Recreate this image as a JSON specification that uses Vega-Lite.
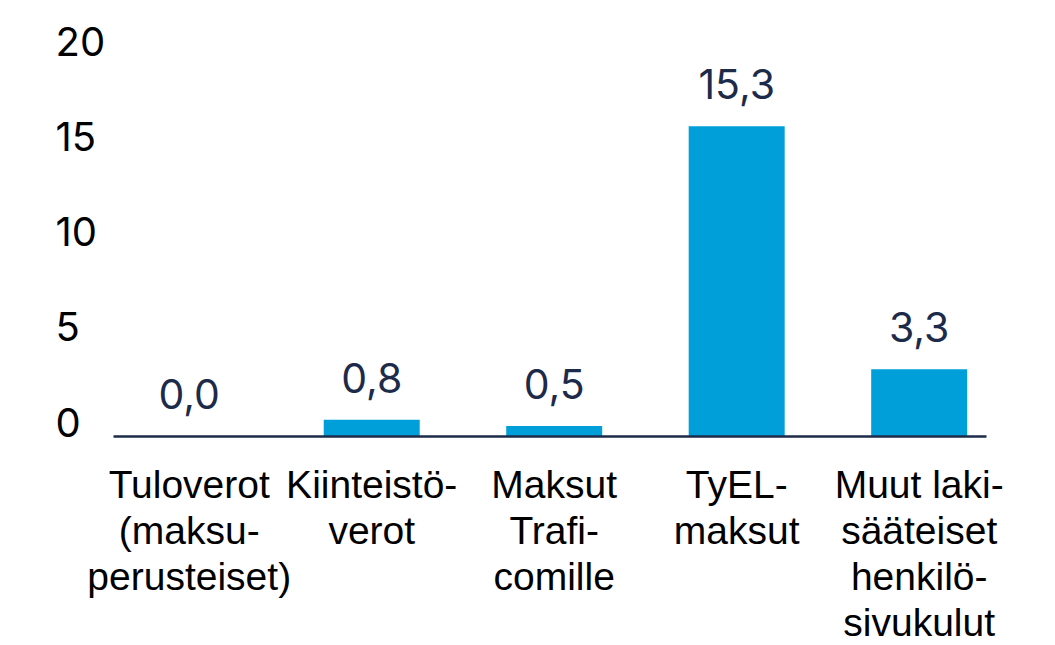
{
  "$schema": "https://vega.github.io/schema/vega-lite/v6.json",
  "width": 873,
  "height": 405,
  "autosize": {"type": "none"},
  "padding": {"left": 113, "top": 31, "right": 69, "bottom": 209},
  "background": "#ffffff",
  "config": {
    "view": {"stroke": null},
    "locale": {"number": {"decimal": ",", "thousands": "\u00a0", "grouping": [3], "currency": ["", " €"]}}
  },
  "data": {
    "values": [
      {"cat": "Tuloverot|(maksu-|perusteiset)", "value": 0.0},
      {"cat": "Kiinteistö-|verot", "value": 0.8},
      {"cat": "Maksut|Trafi-|comille", "value": 0.5},
      {"cat": "TyEL-|maksut", "value": 15.3},
      {"cat": "Muut laki-|sääteiset|henkilö-|sivukulut", "value": 3.3}
    ]
  },
  "encoding": {
    "x": {
      "field": "cat",
      "type": "nominal",
      "sort": null,
      "scale": {"paddingInner": 0.474, "paddingOuter": 0.129, "align": 0.6},
      "axis": {
        "title": null,
        "labelAngle": 0,
        "labelExpr": "split(datum.label, '|')",
        "labelFont": "Liberation Sans",
        "labelFontSize": 39,
        "labelLineHeight": 46,
        "labelPadding": 30,
        "labelColor": "#000000",
        "labelLimit": 0,
        "ticks": false,
        "domainColor": "#1d2b4a",
        "domainWidth": 2.5,
        "zindex": 1
      }
    }
  },
  "layer": [
    {
      "mark": {"type": "bar", "color": "#009fd9"},
      "encoding": {
        "y": {"field": "value", "type": "quantitative", "scale": {"domain": [0, 20], "nice": false}, "axis": null}
      }
    },
    {
      "mark": {"type": "text", "dy": -27, "baseline": "alphabetic", "font": "Inter", "fontSize": 41, "color": "#1d2b4a"},
      "encoding": {
        "y": {"field": "value", "type": "quantitative", "scale": {"domain": [0, 20], "nice": false}, "axis": null},
        "text": {"field": "value", "type": "quantitative", "format": ".1f"}
      }
    },
    {
      "mark": {"type": "point", "opacity": 0},
      "encoding": {
        "y": {
          "field": "value",
          "type": "quantitative",
          "scale": {"domain": [0, 21.26], "nice": false},
          "axis": {
            "orient": "left",
            "title": null,
            "values": [0, 5, 10, 15, 20],
            "ticks": false,
            "domain": false,
            "grid": false,
            "labelAlign": "left",
            "labelBaseline": "alphabetic",
            "labelPadding": 58,
            "labelFont": "Inter",
            "labelFontSize": 40,
            "labelColor": "#000000"
          }
        }
      }
    }
  ],
  "resolve": {"scale": {"y": "independent"}}
}
